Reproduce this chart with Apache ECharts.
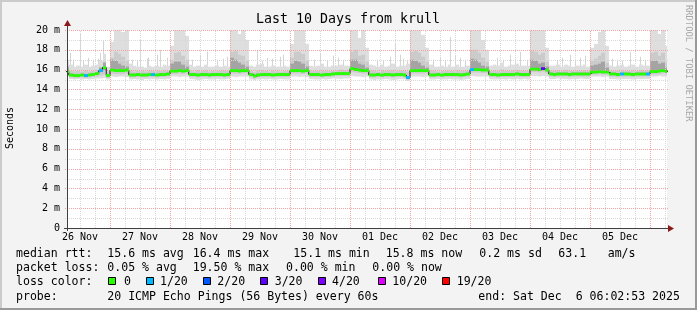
<!DOCTYPE html>
<html><head><meta charset="utf-8">
<script src="https://cdn.jsdelivr.net/npm/echarts@6/dist/echarts.min.js"></script>
<style>html,body{margin:0;padding:0;background:#f3f3f3}#c{width:697px;height:310px}</style>
</head><body><div id="c"></div>
<script>
// ---------------- data (hours since 26 Nov 00:00, 1.5 h buckets) ----------------
const FIRST_BUCKET_HOUR = 6;
const BUCKET_HOURS = 1.5;
const X_MIN = 6.8, X_MAX = 246.8;

const dayLabels = ['26 Nov','27 Nov','28 Nov','29 Nov','30 Nov','01 Dec','02 Dec','03 Dec','04 Dec','05 Dec'];
const dayLabelHours = [12, 36, 60, 84, 108, 132, 156, 180, 204, 228];
const yLabelValues = [0, 2, 4, 6, 8, 10, 12, 14, 16, 18, 20];

// median rtt (ms)
const median = [
 15.8,15.45,15.4,15.4,15.45,15.4,15.45,15.5,15.6,15.9,16.2,15.4,
 15.95,15.9,15.9,15.9,15.95,15.45,15.45,15.5,15.45,15.45,15.5,15.5,15.45,15.5,15.5,15.55,
 15.85,15.85,15.9,15.85,15.9,15.5,15.5,15.45,15.5,15.5,15.45,15.5,15.5,15.5,15.45,15.5,
 15.9,15.9,15.85,15.9,15.9,15.5,15.35,15.45,15.5,15.5,15.5,15.45,15.5,15.5,15.5,15.5,
 15.9,15.9,15.9,15.85,15.9,15.5,15.5,15.5,15.45,15.5,15.5,15.55,15.6,15.6,15.6,15.6,
 16.1,16.0,15.95,15.9,15.9,15.45,15.45,15.5,15.45,15.5,15.5,15.45,15.5,15.5,15.45,15.2,
 15.9,15.9,15.9,15.9,15.9,15.45,15.45,15.5,15.45,15.5,15.5,15.5,15.5,15.45,15.5,15.55,
 16.0,16.0,16.0,15.95,15.95,15.5,15.5,15.45,15.5,15.5,15.5,15.5,15.55,15.5,15.5,15.5,
 16.05,16.05,16.0,16.1,15.95,15.55,15.5,15.55,15.55,15.55,15.5,15.55,15.55,15.55,15.55,15.55,
 15.75,15.75,15.8,15.75,15.75,15.55,15.55,15.5,15.55,15.55,15.55,15.5,15.55,15.55,15.55,15.55,
 15.8,15.8,15.85,15.9,15.8
];
// lost pings out of 20
const loss = [
 0,0,0,0,0,1,0,0,0,1,0,0,
 0,0,0,0,0,0,0,0,0,0,0,1,0,0,0,0,
 0,0,0,0,0,0,0,0,0,0,0,0,0,0,0,0,
 0,0,0,0,0,0,0,0,0,0,0,0,0,0,0,0,
 0,0,0,0,0,0,0,0,0,0,0,0,0,0,0,0,
 0,0,0,0,0,0,0,0,0,0,0,0,0,0,0,1,
 0,0,0,0,0,0,0,0,0,0,0,0,0,0,0,0,
 1,0,0,0,0,0,0,0,0,0,0,0,0,0,0,0,
 0,0,0,3,0,0,0,0,0,0,0,0,0,0,0,0,
 0,0,0,0,0,0,0,0,1,0,0,0,0,0,0,1,
 0,0,0,0,0
];
// smoke: fastest / slowest ping
const smokeMin = [
 15.3,15.05,15.0,15.05,15.0,15.05,15.0,15.05,15.1,15.1,15.15,15.0,
 15.3,15.25,15.3,15.3,15.25,15.0,15.05,15.0,14.95,15.05,15.0,15.05,15.0,15.05,15.0,15.05,
 15.3,15.3,15.25,15.3,15.3,15.05,15.0,14.95,15.0,15.05,15.0,15.0,15.05,15.0,15.0,15.05,
 15.3,15.25,15.3,15.3,15.3,15.0,14.95,15.0,15.05,15.0,15.05,15.0,15.0,15.05,15.0,15.0,
 15.3,15.3,15.25,15.3,15.25,15.05,15.0,15.0,15.05,15.0,15.05,15.1,15.1,15.05,15.1,15.1,
 15.35,15.3,15.3,15.25,15.3,15.0,14.95,15.0,15.0,15.05,15.0,14.95,15.0,15.05,15.0,14.85,
 15.3,15.3,15.3,15.25,15.3,15.0,15.0,15.05,15.0,15.0,15.05,15.0,15.0,14.95,15.0,15.05,
 15.35,15.3,15.3,15.3,15.3,15.05,15.0,15.0,15.05,15.0,15.05,15.0,15.05,15.0,15.05,15.0,
 15.35,15.35,15.3,15.35,15.3,15.05,15.05,15.1,15.05,15.05,15.0,15.05,15.05,15.1,15.05,15.05,
 15.3,15.3,15.3,15.25,15.3,15.05,15.05,15.0,15.05,15.05,15.05,15.0,15.05,15.05,15.05,15.05,
 15.3,15.3,15.35,15.3,15.3
];
const smokeMax = [
 17.0,16.5,16.3,16.4,16.3,16.5,16.3,16.4,16.5,16.9,17.6,16.3,
 18.8,20.4,20.4,19.8,20.4,16.6,16.4,16.3,16.3,16.2,16.4,16.3,16.4,16.3,16.5,16.4,
 18.4,20.4,20.4,20.0,19.4,16.5,16.3,16.4,16.3,16.5,16.3,16.3,16.4,16.3,16.4,16.3,
 20.4,20.4,19.6,20.4,19.0,16.4,16.3,16.5,16.6,16.3,16.3,16.4,16.3,16.3,16.4,16.3,
 18.6,20.4,20.4,20.4,18.6,16.4,16.3,16.4,16.6,16.3,16.3,16.4,16.4,16.5,16.4,16.4,
 20.4,20.4,19.2,20.4,18.2,16.5,16.4,16.3,16.5,16.3,16.4,16.6,16.3,16.4,16.4,16.6,
 20.4,20.4,20.4,19.5,18.2,16.5,16.3,16.3,16.4,16.3,16.5,16.3,16.5,16.3,16.3,16.4,
 20.4,20.4,20.4,19.0,18.0,16.4,16.5,16.4,16.7,16.3,16.4,16.5,16.6,16.4,16.4,16.4,
 20.4,20.4,20.0,20.4,18.2,16.4,16.4,16.5,16.3,16.5,16.4,16.3,16.4,16.4,16.5,16.3,
 18.2,18.6,19.8,20.4,18.4,16.4,16.3,16.4,16.5,16.3,16.4,16.5,16.3,16.5,16.4,16.4,
 20.4,20.4,19.6,20.4,18.4
];
// smoke: middle pings
const smokeLo = [
 15.5,15.2,15.15,15.15,15.2,15.15,15.2,15.25,15.3,15.4,15.5,15.15,
 15.6,15.55,15.55,15.55,15.6,15.2,15.2,15.25,15.2,15.2,15.25,15.25,15.2,15.25,15.25,15.3,
 15.55,15.55,15.6,15.55,15.6,15.25,15.25,15.2,15.25,15.25,15.2,15.25,15.25,15.25,15.2,15.25,
 15.6,15.6,15.55,15.6,15.6,15.25,15.1,15.2,15.25,15.25,15.25,15.2,15.25,15.25,15.25,15.25,
 15.6,15.6,15.6,15.55,15.6,15.25,15.25,15.25,15.2,15.25,15.25,15.3,15.35,15.35,15.35,15.35,
 15.75,15.7,15.65,15.6,15.6,15.2,15.2,15.25,15.2,15.25,15.25,15.2,15.25,15.25,15.2,15.0,
 15.6,15.6,15.6,15.6,15.6,15.2,15.2,15.25,15.2,15.25,15.25,15.25,15.25,15.2,15.25,15.3,
 15.7,15.7,15.7,15.65,15.65,15.25,15.25,15.2,15.25,15.25,15.25,15.25,15.3,15.25,15.25,15.25,
 15.75,15.75,15.7,15.8,15.65,15.3,15.25,15.3,15.3,15.3,15.25,15.3,15.3,15.3,15.3,15.3,
 15.5,15.5,15.55,15.5,15.5,15.3,15.3,15.25,15.3,15.3,15.3,15.25,15.3,15.3,15.3,15.3,
 15.5,15.5,15.55,15.6,15.5
];
const smokeHi = [
 16.4,15.85,15.8,15.85,15.8,15.9,15.8,15.85,15.95,16.3,16.8,15.8,
 17.2,17.8,17.6,17.3,16.9,15.9,15.8,15.85,15.85,15.8,15.9,15.85,15.9,15.85,15.95,15.9,
 17.0,17.7,17.8,17.4,17.0,15.85,15.8,15.95,15.85,15.9,15.8,15.85,15.85,15.9,15.9,15.85,
 17.8,17.9,17.5,17.4,16.9,15.85,15.75,15.9,15.95,15.85,15.8,15.9,15.85,15.8,15.85,15.85,
 17.2,17.8,17.8,17.6,16.9,15.85,15.85,15.85,15.95,15.85,15.85,15.9,15.95,16.0,15.95,15.95,
 17.8,18.0,17.4,17.5,16.8,15.9,15.85,15.8,15.9,15.85,15.9,15.95,15.85,15.9,15.85,15.8,
 17.8,17.9,17.7,17.3,16.8,15.9,15.85,15.8,15.85,15.85,15.9,15.85,15.95,15.85,15.85,15.9,
 18.0,18.0,17.7,17.2,16.8,15.85,15.9,15.85,16.0,15.85,15.85,15.9,15.95,15.9,15.9,15.85,
 17.9,17.8,17.5,17.7,16.8,15.9,15.9,15.9,15.85,15.95,15.85,15.85,15.9,15.85,15.95,15.85,
 16.9,17.1,17.4,17.7,16.7,15.9,15.85,15.9,15.9,15.85,15.85,15.9,15.85,15.95,15.85,15.9,
 17.7,17.8,17.4,17.7,16.8
];
// smoke: pings closest to the median
const coreLo = [
 15.7,15.35,15.3,15.3,15.35,15.3,15.35,15.4,15.45,15.75,15.95,15.3,
 15.85,15.8,15.8,15.8,15.85,15.35,15.35,15.4,15.35,15.35,15.4,15.4,15.35,15.4,15.4,15.45,
 15.75,15.75,15.8,15.75,15.8,15.4,15.4,15.35,15.4,15.4,15.35,15.4,15.4,15.4,15.35,15.4,
 15.8,15.8,15.75,15.8,15.8,15.4,15.25,15.35,15.4,15.4,15.4,15.35,15.4,15.4,15.4,15.4,
 15.8,15.8,15.8,15.75,15.8,15.4,15.4,15.4,15.35,15.4,15.4,15.45,15.5,15.5,15.5,15.5,
 16.0,15.9,15.85,15.8,15.8,15.35,15.35,15.4,15.35,15.4,15.4,15.35,15.4,15.4,15.35,15.1,
 15.8,15.8,15.8,15.8,15.8,15.35,15.35,15.4,15.35,15.4,15.4,15.4,15.4,15.35,15.4,15.45,
 15.9,15.9,15.9,15.85,15.85,15.4,15.4,15.35,15.4,15.4,15.4,15.4,15.45,15.4,15.4,15.4,
 15.95,15.95,15.9,16.0,15.85,15.45,15.4,15.45,15.45,15.45,15.4,15.45,15.45,15.45,15.45,15.45,
 15.65,15.65,15.7,15.65,15.65,15.45,15.45,15.4,15.45,15.45,15.45,15.4,15.45,15.45,15.45,15.45,
 15.7,15.7,15.75,15.8,15.7
];
const coreHi = [
 16.2,15.6,15.55,15.55,15.6,15.55,15.6,15.65,15.75,16.2,16.7,15.55,
 17.0,16.9,16.6,16.4,16.3,15.6,15.6,15.65,15.6,15.6,15.65,15.65,15.6,15.65,15.65,15.7,
 16.6,16.8,16.8,16.5,16.3,15.65,15.65,15.6,15.65,15.65,15.6,15.65,15.65,15.65,15.6,15.65,
 17.2,17.0,16.7,16.5,16.3,15.65,15.5,15.6,15.65,15.65,15.65,15.6,15.65,15.65,15.65,15.65,
 16.6,16.9,16.8,16.6,16.3,15.65,15.65,15.65,15.6,15.65,15.65,15.7,15.75,15.75,15.75,15.75,
 17.0,17.0,16.6,16.5,16.2,15.6,15.6,15.65,15.6,15.65,15.65,15.6,15.65,15.65,15.6,15.35,
 17.0,16.9,16.7,16.4,16.2,15.6,15.6,15.65,15.6,15.65,15.65,15.65,15.65,15.6,15.65,15.7,
 17.1,17.0,16.7,16.4,16.3,15.65,15.65,15.6,15.65,15.65,15.65,15.65,15.7,15.65,15.65,15.65,
 17.0,16.9,16.6,16.7,16.3,15.7,15.65,15.7,15.7,15.7,15.65,15.7,15.7,15.7,15.7,15.7,
 16.4,16.5,16.6,16.8,16.2,15.7,15.7,15.65,15.7,15.7,15.7,15.65,15.7,15.7,15.7,15.7,
 16.9,16.9,16.6,16.7,16.2
];
// isolated slow pings [hour, ms]
const spikes = [
 [8.0,17.7],[9.2,17.0],[12.0,19.7],[13.2,16.9],[15.2,17.2],[17.2,17.0],[19.2,17.1],[20.0,17.7],[21.2,18.9],[22.0,17.3],
 [32.8,17.0],[34.8,16.9],[36.0,19.0],[38.8,17.1],[39.2,17.2],[42.8,17.5],[44.0,18.0],[46.8,17.2],
 [56.8,17.0],[60.0,17.5],[62.8,17.8],[66.8,17.0],[69.2,17.1],[70.8,17.3],
 [82.8,18.0],[84.8,16.9],[86.8,17.2],[88.8,17.1],[92.0,17.3],[93.2,17.5],
 [105.6,17.0],[108.0,17.7],[110.8,16.9],[113.2,17.4],[115.2,17.2],[117.2,17.0],
 [130.8,17.0],[133.2,16.9],[136.0,17.3],[138.0,18.7],[140.0,17.5],[141.2,17.1],[142.8,17.0],
 [153.2,17.0],[156.0,17.3],[158.0,17.0],[160.0,19.3],[162.0,17.4],[164.0,17.2],[166.0,16.9],
 [178.8,17.2],[181.2,17.0],[184.0,17.5],[186.0,17.1],[188.0,17.8],[190.8,17.0],
 [202.8,17.0],[204.8,17.2],[208.0,17.5],[210.0,16.9],[212.0,17.2],[214.0,17.4],
 [224.8,17.1],[226.8,17.0],[228.8,16.9],[232.0,17.8],[236.0,17.3],[238.0,17.0]
];

const lossLegend = ['0','1/20','2/20','3/20','4/20','10/20','19/20'];
const lossColors = ['#26ff00','#00b8ff','#0059ff','#5e00ff','#7e00ff','#dd00ff','#ff0000'];
function lossColor(n){ if(n>=19) return lossColors[6]; if(n>=10) return lossColors[5]; if(n>=4) return lossColors[4]; return lossColors[n]; }

// ---------------- chart ----------------
const FONT = '"DejaVu Sans Mono", monospace';
const chart = echarts.init(document.getElementById('c'), null, {renderer:'canvas'});
const bucketStart = median.map((_, i) => FIRST_BUCKET_HOUR + i * BUCKET_HOURS);
function bandData(lo, hi){ return bucketStart.map((s,i)=>[s, s+BUCKET_HOURS, lo[i], hi[i]]); }
function rectRender(fill){
  return function(params, api){
    const p0 = api.coord([api.value(0), api.value(3)]);
    const p1 = api.coord([api.value(1), api.value(2)]);
    const x0 = Math.round(p0[0]), x1 = Math.round(p1[0]);
    const cs = params.coordSys;
    const r = echarts.graphic.clipRectByRect({x:x0, y:p0[1], width:x1-x0, height:p1[1]-p0[1]}, {x:cs.x, y:cs.y, width:cs.width, height:cs.height});
    if(!r) return null;
    return {type:'rect', shape:r, style:{fill: typeof fill==='function' ? fill(api) : fill}};
  };
}
// grid lines (rrdtool paints the grid over the smoke)
const vGrid = [];
for (let h = 12; h < X_MAX; h += 6) vGrid.push([h, h % 24 === 0 ? 1 : 0]);
const hGrid = [];
for (let v = 1; v <= 20; v++) hGrid.push([v, v % 2 === 0 ? 1 : 0]);
const MAJOR = '#f3a4a4', MINOR = '#d9d9d9';

const medianLine = bucketStart.map((s,i)=>[s, median[i]]);
medianLine.push([bucketStart[bucketStart.length-1]+BUCKET_HOURS, median[median.length-1]]);

const option = {
  backgroundColor: '#f3f3f3',
  animation: false,
  grid: {left:67, top:30, width:600, height:198, show:true, backgroundColor:'#ffffff', borderWidth:0},
  xAxis: {type:'value', min:X_MIN, max:X_MAX, axisLine:{show:false}, axisTick:{show:false}, axisLabel:{show:false}, splitLine:{show:false}},
  yAxis: {type:'value', min:0, max:20, interval:1,
    axisLine:{show:false}, axisTick:{show:false}, splitLine:{show:false},
    axisLabel:{margin:7, fontFamily:'DejaVu Sans Mono', fontSize:10, color:'#000',
      formatter: v => (yLabelValues.indexOf(v) < 0 ? '' : (v === 0 ? '0' : v + ' m'))}
  },
  series: [
    {type:'custom', name:'spikes', silent:true, z:2, data:spikes,
      renderItem:(params, api)=>{
        const p0 = api.coord([api.value(0), 16]), p1 = api.coord([api.value(0), api.value(1)]);
        const x = Math.round(p0[0]);
        return {type:'rect', shape:{x:x, y:p1[1], width:1, height:p0[1]-p1[1]}, style:{fill:'#d4d4d4'}};
      }},
    {type:'custom', name:'smoke', silent:true, z:3, data:bandData(smokeMin, smokeMax), renderItem:rectRender('#dedede')},
    {type:'custom', name:'smoke2', silent:true, z:4, data:bandData(smokeLo, smokeHi), renderItem:rectRender('#cbcbcb')},
    {type:'custom', name:'smoke3', silent:true, z:5, data:bandData(coreLo, coreHi), renderItem:rectRender('#a4a4a4')},
    {type:'custom', name:'hgrid', silent:true, z:6, data:hGrid, encode:{y:0},
      renderItem:(params, api)=>{
        const v = api.value(0), major = api.value(1);
        const p0 = api.coord([X_MIN, v]), p1 = api.coord([X_MAX, v]);
        const y = Math.round(p0[1]) + 0.5;
        return {type:'line', shape:{x1:p0[0]-2, y1:y, x2:p1[0]+2, y2:y},
          style:{stroke: major ? MAJOR : MINOR, lineWidth:1, lineDash:[1,1]}};
      }},
    {type:'custom', name:'vgrid', silent:true, z:6, data:vGrid, encode:{x:0},
      renderItem:(params, api)=>{
        const h = api.value(0), major = api.value(1);
        const p0 = api.coord([h, 0]), p1 = api.coord([h, 20]);
        const x = Math.round(p0[0]) + 0.5;
        return {type:'line', shape:{x1:x, y1:p0[1], x2:x, y2:p1[1]},
          style:{stroke: major ? MAJOR : MINOR, lineWidth:1, lineDash:[1,1]}};
      }},
    {type:'line', name:'median', silent:true, z:7, step:'end', symbol:'none', data:medianLine,
      lineStyle:{color:'#202020', width:1}},
    {type:'custom', name:'loss', silent:true, z:8,
      data: bucketStart.map((s,i)=>[s, s+BUCKET_HOURS, median[i]-0.14, median[i]+0.14, loss[i]]),
      renderItem: rectRender(api => lossColor(api.value(4)))},
    {type:'custom', name:'xlabels', silent:true, z:9, data: dayLabelHours.map((h,i)=>[h,i]),
      renderItem:(params, api)=>{
        const p = api.coord([api.value(0), 0]);
        return {type:'text', x:p[0], y:p[1]+9.5, style:{text:dayLabels[api.value(1)], font:'10px '+FONT, fill:'#000', align:'center', verticalAlign:'middle'}};
      }}
  ],
  graphic: []
};

const G = [];
function txt(x, y, s, size){ G.push({type:'text', x:x, y:y, z:50, style:{text:s, font:size+'px '+FONT, fill:'#000', align:'left', verticalAlign:'middle'}}); }
// frame
G.push({type:'rect', shape:{x:0,y:0,width:697,height:2}, style:{fill:'#cbcbcb'}, z:40});
G.push({type:'rect', shape:{x:0,y:0,width:2,height:310}, style:{fill:'#cbcbcb'}, z:40});
G.push({type:'rect', shape:{x:0,y:308,width:697,height:2}, style:{fill:'#999999'}, z:40});
G.push({type:'rect', shape:{x:695,y:0,width:2,height:310}, style:{fill:'#999999'}, z:40});
// axes
G.push({type:'line', shape:{x1:67.5,y1:231,x2:67.5,y2:24}, style:{stroke:'#404040', lineWidth:1}, z:45});
G.push({type:'line', shape:{x1:64,y1:228.5,x2:670,y2:228.5}, style:{stroke:'#404040', lineWidth:1}, z:45});
G.push({type:'polygon', shape:{points:[[64,26],[71,26],[67.5,20]]}, style:{fill:'#8b1a1a'}, z:46});
G.push({type:'polygon', shape:{points:[[668,225],[668,232],[674,228.5]]}, style:{fill:'#8b1a1a'}, z:46});
// title, unit, watermark
G.push({type:'text', x:348, y:19.5, z:50, style:{text:'Last 10 Days from krull', font:'13.3px '+FONT, fill:'#000', align:'center', verticalAlign:'middle'}});
G.push({type:'text', x:10, y:128, rotation:Math.PI/2, z:50, style:{text:'Seconds', font:'10px '+FONT, fill:'#000', align:'center', verticalAlign:'middle'}});
G.push({type:'text', x:688.5, y:5, rotation:-Math.PI/2, z:50, style:{text:'RRDTOOL / TOBI OETIKER', font:'8.8px '+FONT, fill:'#a8a8a8', align:'left', verticalAlign:'middle'}});
// legend
const LS = 11.55;
const legendLines = [
  [[16,'median rtt:'],[107.3,'15.6 ms avg'],[192.7,'16.4 ms max'],[293.3,'15.1 ms min'],[385.7,'15.8 ms now'],[479.3,'0.2 ms sd'],[558.3,'63.1'],[607.7,'am/s']],
  [[16,'packet loss:'],[107.3,'0.05 % avg'],[192.7,'19.50 % max'],[286,'0.00 % min'],[372.3,'0.00 % now']],
  [[16,'loss color:']],
  [[16,'probe:'],[107.3,'20 ICMP Echo Pings (56 Bytes) every 60s'],[478.3,'end: Sat Dec  6 06:02:53 2025']]
];
const legendY = [253.5, 268, 282, 296.5];
legendLines.forEach((line, li)=> line.forEach(([x,s])=> txt(x, legendY[li], s, LS)));
const swatchX = [108, 146, 203, 260, 318, 378, 442];
const swatchLabelX = [124, 160, 217.3, 274.7, 332, 392.3, 456.7];
lossLegend.forEach((lab, i)=>{
  G.push({type:'rect', shape:{x:swatchX[i]+0.5, y:277.5, width:7, height:7}, style:{fill:lossColors[i], stroke:'#000', lineWidth:1}, z:50});
  txt(swatchLabelX[i], legendY[2], lab, LS);
});
option.graphic = G;
chart.setOption(option);
</script></body></html>
